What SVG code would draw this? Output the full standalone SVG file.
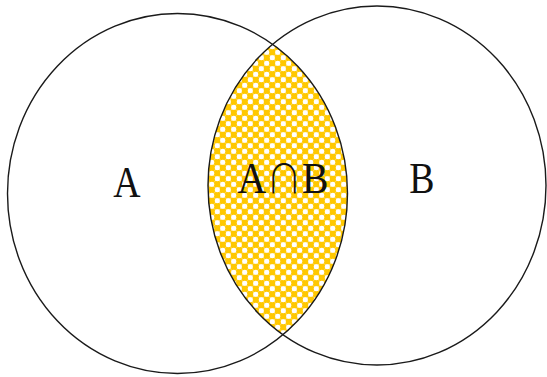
<svg xmlns="http://www.w3.org/2000/svg" width="547" height="377" viewBox="0 0 547 377">
  <style>
    .set { fill: none; stroke: #1a1a1a; stroke-width: 1.4; }
    .lbl { font-family: "Liberation Serif", "Times New Roman", serif; font-size: 44px; fill: #111; text-anchor: middle; }
    .cap { font-family: "Noto Sans CJK JP", sans-serif; font-size: 40px; font-weight: 300; }
  </style>
  <defs>
    <pattern id="check" patternUnits="userSpaceOnUse" width="11" height="11" x="0" y="0">
      <rect width="11" height="11" fill="#FFDE6E"/>
      <circle cx="2.75" cy="2.75" r="3.5" fill="#FFC800"/>
      <circle cx="8.25" cy="8.25" r="3.5" fill="#FFC800"/>
      <circle cx="8.25" cy="2.75" r="2.5" fill="#FFFFFF"/>
      <circle cx="2.75" cy="8.25" r="2.5" fill="#FFFFFF"/>
    </pattern>
    <clipPath id="clipB">
      <ellipse cx="377" cy="185.5" rx="169" ry="179.5"/>
    </clipPath>
  </defs>
  <rect width="547" height="377" fill="#fff"/>
  <g id="intersection">
    <ellipse cx="177.5" cy="193.5" rx="170" ry="180" fill="url(#check)" clip-path="url(#clipB)"/>
    <text class="lbl" x="283" y="193" transform="translate(283 0) scale(0.9 1) translate(-283 0)">A<tspan class="cap">∩</tspan>B</text>
  </g>
  <g id="setA">
    <ellipse class="set" cx="177.5" cy="193.5" rx="170" ry="180"/>
    <text class="lbl" x="127" y="197" transform="translate(127 0) scale(0.86 1) translate(-127 0)">A</text>
  </g>
  <g id="setB">
    <ellipse class="set" cx="377" cy="185.5" rx="169" ry="179.5"/>
    <text class="lbl" x="422" y="193" transform="translate(422 0) scale(0.86 1) translate(-422 0)">B</text>
  </g>
  <g id="connectors"/>
</svg>
